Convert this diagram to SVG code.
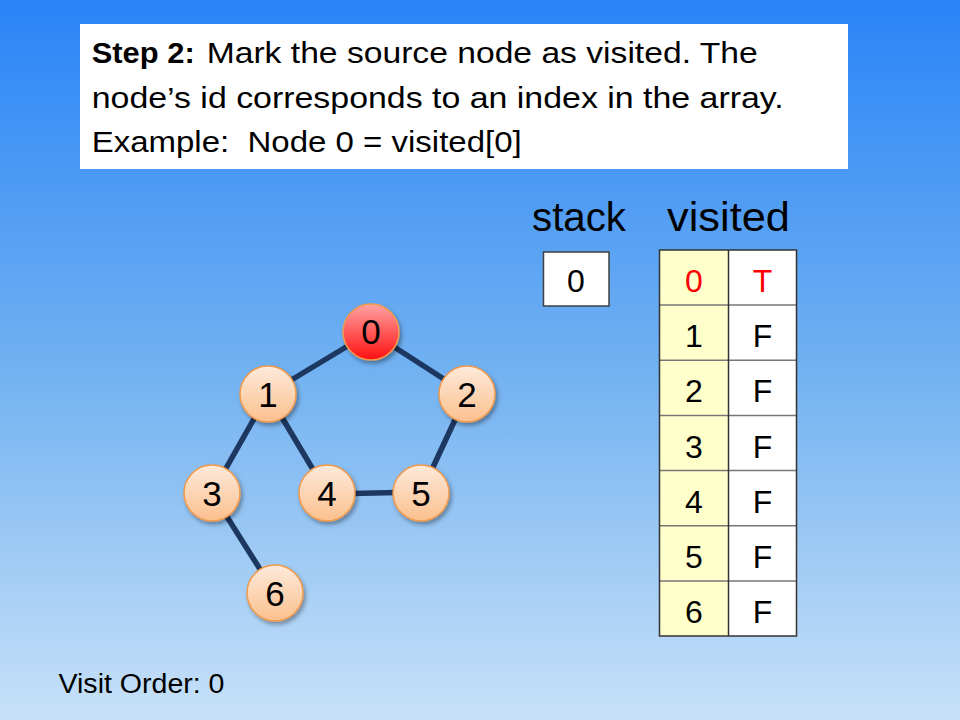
<svg xmlns="http://www.w3.org/2000/svg" width="960" height="720" viewBox="0 0 960 720">
<defs>
<linearGradient id="bg" x1="0" y1="0" x2="0" y2="1">
<stop offset="0" stop-color="#2a84f8"/>
<stop offset="0.5" stop-color="#6fb0f1"/>
<stop offset="1" stop-color="#c8e1f8"/>
</linearGradient>
<linearGradient id="peach" x1="0" y1="0" x2="0" y2="1">
<stop offset="0" stop-color="#fdeadb"/>
<stop offset="1" stop-color="#fbc08e"/>
</linearGradient>
<linearGradient id="red" x1="0" y1="0" x2="0" y2="1">
<stop offset="0" stop-color="#ffa3a3"/>
<stop offset="1" stop-color="#ff1010"/>
</linearGradient>
<filter id="sh" x="-30%" y="-30%" width="170%" height="170%">
<feDropShadow dx="2" dy="3" stdDeviation="2" flood-color="#000" flood-opacity="0.35"/>
</filter>
</defs>
<style>
text{font-family:"Liberation Sans",Arial,sans-serif;fill:#000}
.edge{stroke:#1c3760;stroke-width:5.5;stroke-linecap:butt}
.node{fill:url(#peach);stroke:#f19a4c;stroke-width:1.5;filter:url(#sh)}
.src{fill:url(#red);stroke:#f19a4c;stroke-width:1.5;filter:url(#sh)}
.nl{font-size:35px;text-anchor:middle}
.cell{font-size:32px;text-anchor:middle}
.hd{font-size:41px}
.cap{font-size:30px}
</style>
<rect width="960" height="720" fill="url(#bg)"/>

<g id="caption">
<rect x="80" y="24" width="768" height="145" fill="#fff"/>
<text class="cap" x="91.7" y="63" font-weight="bold" textLength="103" lengthAdjust="spacingAndGlyphs">Step 2:</text>
<text class="cap" x="206.7" y="63" textLength="551" lengthAdjust="spacingAndGlyphs">Mark the source node as visited. The</text>
<text class="cap" x="91.7" y="108" textLength="692" lengthAdjust="spacingAndGlyphs">node’s id corresponds to an index in the array.</text>
<text class="cap" x="91.7" y="152" xml:space="preserve" textLength="430" lengthAdjust="spacingAndGlyphs">Example:  Node 0 = visited[0]</text>
</g>

<g id="connectors">
<line class="edge" x1="371" y1="332" x2="268" y2="394"/>
<line class="edge" x1="371" y1="332" x2="467" y2="394"/>
<line class="edge" x1="268" y1="394" x2="212" y2="493"/>
<line class="edge" x1="268" y1="394" x2="327" y2="493"/>
<line class="edge" x1="467" y1="394" x2="421" y2="493"/>
<line class="edge" x1="327" y1="494" x2="421" y2="492"/>
<line class="edge" x1="212" y1="493" x2="275" y2="593"/>
</g>

<g id="node0"><circle class="src" cx="371" cy="332" r="28"/><text class="nl" x="371" y="344">0</text></g>
<g id="node1"><circle class="node" cx="268" cy="394" r="28"/><text class="nl" x="268" y="407">1</text></g>
<g id="node2"><circle class="node" cx="467" cy="394" r="28"/><text class="nl" x="467" y="407">2</text></g>
<g id="node3"><circle class="node" cx="212" cy="493" r="28"/><text class="nl" x="212" y="506">3</text></g>
<g id="node4"><circle class="node" cx="327" cy="493" r="28"/><text class="nl" x="327" y="506">4</text></g>
<g id="node5"><circle class="node" cx="421" cy="493" r="28"/><text class="nl" x="421" y="506">5</text></g>
<g id="node6"><circle class="node" cx="275" cy="593" r="28"/><text class="nl" x="275" y="606">6</text></g>

<g id="stack">
<text class="hd" x="532" y="231" textLength="94" lengthAdjust="spacingAndGlyphs">stack</text>
<rect x="543.5" y="252" width="65.5" height="54" fill="#fff" stroke="#404040" stroke-width="1.5"/>
<text class="cell" x="576" y="291.5">0</text>
</g>

<g id="visited">
<text class="hd" x="667" y="231" textLength="123" lengthAdjust="spacingAndGlyphs">visited</text>
<rect x="659.5" y="250" width="69" height="386" fill="#ffffcc"/>
<rect x="728.5" y="250" width="68" height="386" fill="#fff"/>
<g stroke="#777" stroke-width="1.5">
<line x1="659.5" y1="305.1" x2="796.5" y2="305.1"/>
<line x1="659.5" y1="360.3" x2="796.5" y2="360.3"/>
<line x1="659.5" y1="415.4" x2="796.5" y2="415.4"/>
<line x1="659.5" y1="470.6" x2="796.5" y2="470.6"/>
<line x1="659.5" y1="525.7" x2="796.5" y2="525.7"/>
<line x1="659.5" y1="580.9" x2="796.5" y2="580.9"/>
</g>
<rect x="659.5" y="250" width="137" height="386" fill="none" stroke="#333" stroke-width="1.5"/>
<line x1="728.5" y1="250" x2="728.5" y2="636" stroke="#333" stroke-width="1.5"/>
<text class="cell" x="694" y="292" fill="#ff0000" style="fill:#ff0000">0</text>
<text class="cell" x="762.5" y="292" style="fill:#ff0000">T</text>
<text class="cell" x="694" y="347">1</text><text class="cell" x="762.5" y="347">F</text>
<text class="cell" x="694" y="402">2</text><text class="cell" x="762.5" y="402">F</text>
<text class="cell" x="694" y="457.5">3</text><text class="cell" x="762.5" y="457.5">F</text>
<text class="cell" x="694" y="512.5">4</text><text class="cell" x="762.5" y="512.5">F</text>
<text class="cell" x="694" y="568">5</text><text class="cell" x="762.5" y="568">F</text>
<text class="cell" x="694" y="623">6</text><text class="cell" x="762.5" y="623">F</text>
</g>

<g id="visit-order">
<text x="58.5" y="692.5" font-size="27" textLength="166" lengthAdjust="spacingAndGlyphs">Visit Order: 0</text>
</g>
</svg>
